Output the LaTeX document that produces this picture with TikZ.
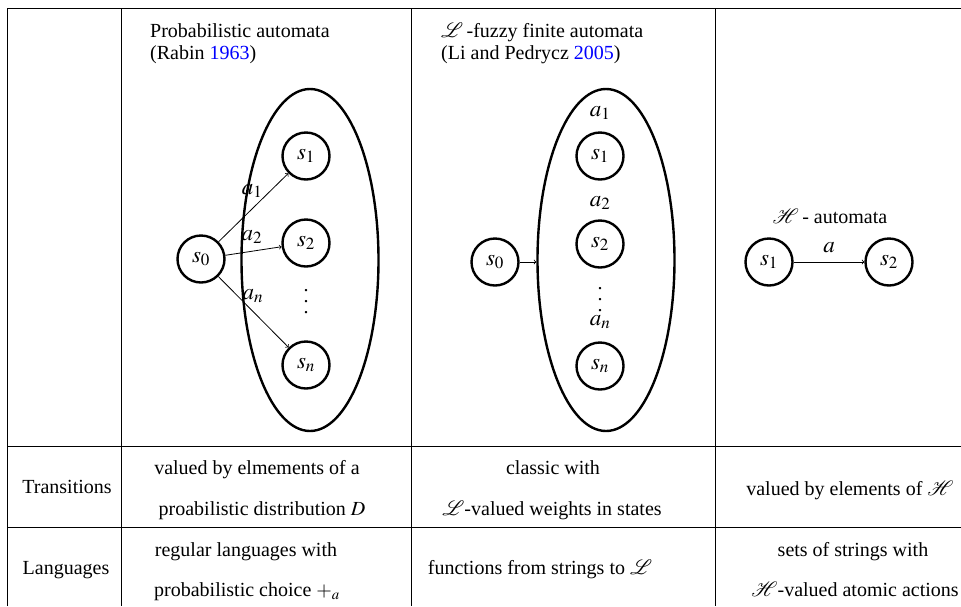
\documentclass[tikz,border=0pt]{standalone}
\usepackage{mathptmx}
\usepackage{mathrsfs}
\usepackage[no-math]{fontspec}
\setmainfont{Liberation Serif}
\newfontfamily\timesfont{Liberation Serif}
\usetikzlibrary{shapes.geometric}

% three widely spaced vertical dots
\newcommand{\tallvdots}{\vbox{\baselineskip=11pt\lineskiplimit=0pt\hbox{.}\hbox{.}\hbox{.}}}

\begin{document}
\begin{tikzpicture}[x=1pt,y=-1pt,
  font=\timesfont\fontsize{20}{24}\selectfont,
  state/.style={circle,draw,line width=2.4pt,minimum size=47pt,inner sep=0pt,
    font=\timesfont\fontsize{23}{27}\selectfont},
  cloud/.style={ellipse,draw,line width=2.4pt,minimum width=137pt,minimum height=342pt,inner sep=0pt},
  rule/.style={line width=1pt},
  trans/.style={->,line width=0.8pt},
  txt/.style={inner sep=0pt},
  sym/.style={inner sep=0pt,font=\timesfont\fontsize{23}{27}\selectfont}]

\useasboundingbox (0,0) rectangle (961,606);

% table rules
\draw[rule] (7,606) -- (7,8) -- (961,8);
\draw[rule] (121,8) -- (121,606);
\draw[rule] (411,8) -- (411,606);
\draw[rule] (715,8) -- (715,606);
\draw[rule] (7,446) -- (961,446);
\draw[rule] (7,527) -- (961,527);

% column headings
\node[txt,anchor=base west] (h1a) at (150,37) {Probabilistic automata};
\node[txt,anchor=base west] (h1b) at (150,59) {(Rabin \textcolor{blue}{1963})};
\node[txt,anchor=base west] (h2a) at (441,37) {$\mathscr{L}$\,-fuzzy finite automata};
\node[txt,anchor=base west] (h2b) at (441,59) {(Li and Pedrycz \textcolor{blue}{2005})};

% probabilistic automaton
\node[cloud] (lell) at (310,260) {};
\node[state] (l0) at (201,259) {$s_0$};
\node[state] (l1) at (306,156) {$s_1$};
\node[state] (l2) at (306,243) {$s_2$};
\node[state] (ln) at (306,365) {$s_n$};
\node[txt] (ldots) at (306,302) {\tallvdots};
\draw[trans] (l0) -- node[sym,pos=0.48,above=11pt] (la1) {$a_1$} (l1);
\draw[trans] (l0) -- node[sym,pos=0.47,above=7pt] (la2) {$a_2$} (l2);
\draw[trans] (l0) -- node[sym,pos=0.49,above=8pt] (lan) {$a_n$} (ln);

% L-fuzzy finite automaton
\node[cloud] (mell) at (606,260) {};
\node[state] (m0) at (495,262) {$s_0$};
\node[state] (m1) at (600,156) {$s_1$};
\node[state] (m2) at (600,244) {$s_2$};
\node[state] (mn) at (600,366) {$s_n$};
\node[sym] (ma1) at (600,113) {$a_1$};
\node[sym] (ma2) at (600,203) {$a_2$};
\node[txt] (mdots) at (600,300) {\tallvdots};
\node[sym] (man) at (600,322) {$a_n$};
\draw[trans] (m0.east) -- (m0.east -| mell.west);

% H-automaton
\node[txt] (hh) at (830,216) {$\mathscr{H}$\,- automata};
\node[state] (r1) at (769,262) {$s_1$};
\node[state] (r2) at (889,262) {$s_2$};
\draw[trans] (r1) -- node[sym,above=9pt] (ra) {$a$} (r2);

% transitions row
\node[txt,anchor=base] (tr) at (67,493) {Transitions};
\node[txt,anchor=base] (tr1a) at (257,474) {valued by elmements of a};
\node[txt,anchor=base] (tr1b) at (262,515) {proabilistic distribution $D$};
\node[txt,anchor=base] (tr2a) at (553,474) {classic with};
\node[txt,anchor=base] (tr2b) at (552,515) {$\mathscr{L}$-valued weights in states};
\node[txt,anchor=base] (tr3) at (850,495) {valued by elements of $\mathscr{H}$};

% languages row
\node[txt,anchor=base] (lg) at (66,574) {Languages};
\node[txt,anchor=base] (lg1a) at (246,556) {regular languages with};
\node[txt,anchor=base] (lg1b) at (247,596) {probabilistic choice $+_a$};
\node[txt,anchor=base] (lg2) at (540,574) {functions from strings to $\mathscr{L}$};
\node[txt,anchor=base] (lg3a) at (853,556) {sets of strings with};
\node[txt,anchor=base] (lg3b) at (855,596) {$\mathscr{H}$-valued atomic actions};
\end{tikzpicture}
\end{document}
